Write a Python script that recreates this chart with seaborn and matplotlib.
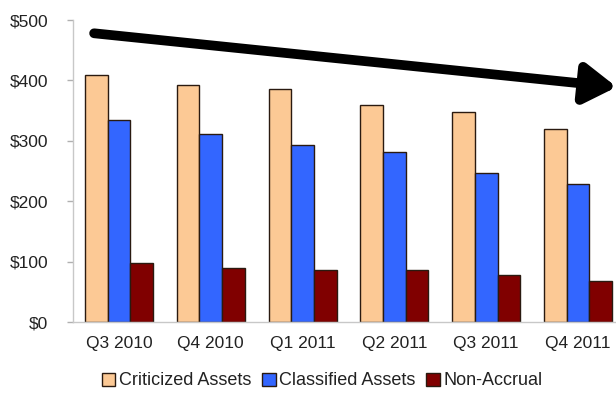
import pandas as pd
import matplotlib.pyplot as plt
import seaborn as sns
from matplotlib.ticker import FixedLocator

# Values ($ millions)
quarters = ["Q3 2010", "Q4 2010", "Q1 2011", "Q2 2011", "Q3 2011", "Q4 2011"]
criticized = [409, 392, 385, 360, 348, 319]
classified = [334, 312, 293, 281, 247, 228]
non_accrual = [97, 90, 86, 86, 78, 68]
series_names = ["Criticized Assets", "Classified Assets", "Non-Accrual"]
colors = ["#FCC995", "#3366FF", "#800000"]
y_ticks = [0, 100, 200, 300, 400, 500]
y_tick_labels = ["$0", "$100", "$200", "$300", "$400", "$500"]

# Long-form table for seaborn
df = pd.DataFrame({
    "quarter": quarters * 3,
    "series": [series_names[0]] * 6 + [series_names[1]] * 6 + [series_names[2]] * 6,
    "value": criticized + classified + non_accrual,
})

sns.set_style("white")
plt.rcParams["font.family"] = ["Liberation Sans", "DejaVu Sans"]

fig = plt.figure(figsize=(6.16, 3.96), dpi=100)
# plot area runs past the right edge, like the cropped original
ax = fig.add_axes([73 / 616, 1 - 322 / 396, 551 / 616, 302 / 396])

sns.barplot(data=df, x="quarter", y="value", hue="series", order=quarters,
            hue_order=series_names, palette=colors, width=0.74, gap=0,
            edgecolor="#2a1a10", linewidth=1.0, saturation=1, ax=ax, legend=False)

ax.set_xlim(-0.5, 5.5)
ax.set_ylim(0, 500)
ax.set_xlabel("")
ax.set_ylabel("")

# y axis
ax.set_yticks(y_ticks)
ax.set_yticklabels(y_tick_labels, fontsize=12.5, color="#222222")
# x axis: tick marks between groups, labels at group centres
ax.xaxis.set_major_locator(FixedLocator([i - 0.5 for i in range(7)]))
ax.xaxis.set_major_formatter(plt.NullFormatter())
ax.xaxis.set_minor_locator(FixedLocator(list(range(6))))
ax.set_xticklabels(quarters, minor=True, fontsize=12.5, color="#222222")
ax.tick_params(axis="x", which="major", length=4, color="#b0b0b0", width=1)
ax.tick_params(axis="x", which="minor", length=0, pad=10)
ax.tick_params(axis="y", length=4, color="#b0b0b0", width=1, pad=14, left=True)

for side in ["top", "right"]:
    ax.spines[side].set_visible(False)
for side in ["left", "bottom"]:
    ax.spines[side].set_color("#c8c8c8")
    ax.spines[side].set_linewidth(1)

# downward trend arrow
ax.annotate("", xy=(5.42, 389), xytext=(-0.27, 478), annotation_clip=False,
            arrowprops=dict(arrowstyle="-|>,head_length=0.95,head_width=0.6",
                            mutation_scale=20, color="black", lw=7,
                            shrinkA=0, shrinkB=0))

# legend below the chart
handles = [plt.Rectangle((0, 0), 1, 1, facecolor=c, edgecolor="#2a1a10", linewidth=1)
           for c in colors]
fig.legend(handles, series_names, loc="center", bbox_to_anchor=(0.523, 0.038),
           ncol=3, frameon=False, fontsize=13, handlelength=0.75, handleheight=0.75,
           handletextpad=0.2, columnspacing=0.6, labelcolor="#222222")

plt.savefig("out.png", dpi=100)
